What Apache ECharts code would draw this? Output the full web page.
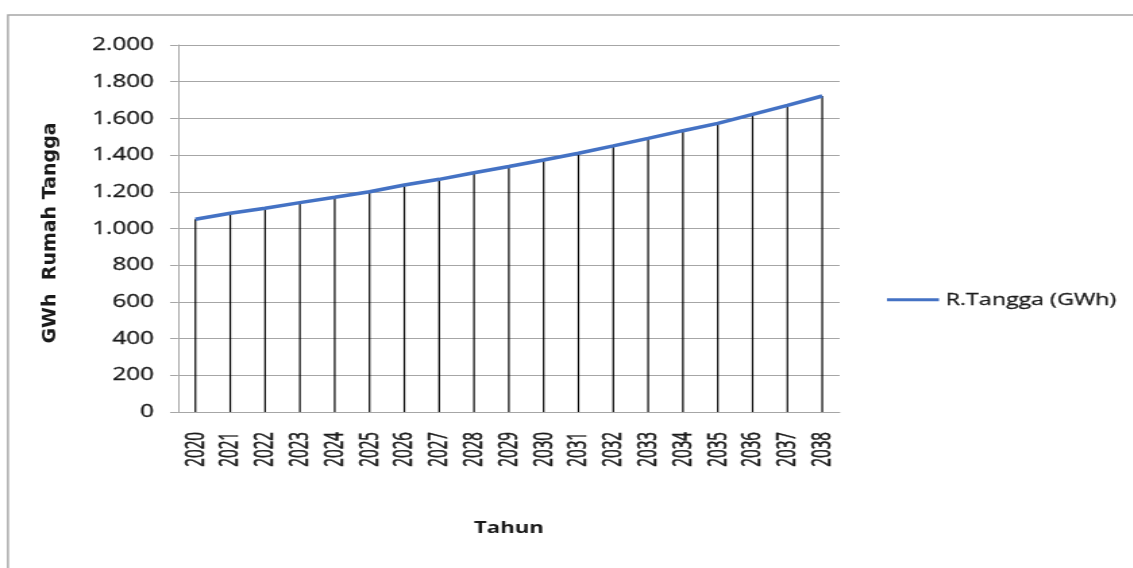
<!DOCTYPE html>
<html>
<head>
<meta charset="utf-8">
<script src="https://cdn.jsdelivr.net/npm/echarts@6/dist/echarts.min.js"></script>
<style>
  html, body { margin: 0; padding: 0; background: #fff; overflow: hidden; }
  #wrap { width: 1133px; height: 568px; overflow: hidden; position: relative; }
  /* the chart is laid out narrower and widened horizontally */
  #chart { width: 839.26px; height: 568px; transform: scaleX(1.35); transform-origin: 0 0; }
</style>
</head>
<body>
<div id="wrap"><div id="chart"></div></div>
<script>
const STRETCH = 1.35;

const years = ['2020','2021','2022','2023','2024','2025','2026','2027','2028','2029',
               '2030','2031','2032','2033','2034','2035','2036','2037','2038'];
const rumahTangga = [1050, 1083, 1110, 1141, 1170, 1200, 1237, 1268, 1304, 1338,
                     1373, 1410, 1450, 1491, 1533, 1573, 1622, 1671, 1722];
const seriesName = 'R.Tangga (GWh)';
const yTitle = 'GWh  Rumah Tangga';
const xTitle = 'Tahun';

const fmtThousands = v => String(v).replace(/\B(?=(\d{3})+(?!\d))/g, '.');

const chart = echarts.init(document.getElementById('chart'), null, { renderer: 'canvas' });

const gridColor = '#a6a6a6';
const textColor = '#1a1a1a';
const font = 'Open Sans';
// a thin outline in the text colour gives the labels a slightly heavier weight
const heavy = { textBorderColor: textColor, textBorderWidth: 0.3 };

const baseGraphics = [
  {
    id: 'frame', type: 'rect', silent: true, z: -10,
    shape: { x: 5.9, y: 15, width: 2000, height: 2000 },
    style: { fill: 'none', stroke: gridColor, lineWidth: 1.4 }
  },
  {
    id: 'yTitle', type: 'text', silent: true,
    x: 37, y: 233,
    rotation: Math.PI / 2,
    scaleY: 1 / STRETCH,
    style: {
      text: yTitle, fontFamily: 'DejaVu Sans', fontWeight: 'bold', fontSize: 19,
      fill: textColor, align: 'center', verticalAlign: 'middle'
    }
  }
];

chart.setOption({
  animation: false,
  textStyle: { fontFamily: font, color: textColor },
  graphic: baseGraphics,
  legend: {
    data: [seriesName],
    left: 652, top: 286,
    icon: 'rect', itemWidth: 38.5, itemHeight: 3, itemGap: 5.9,
    textStyle: Object.assign({ fontFamily: font, fontSize: 17.2, color: textColor }, heavy)
  },
  grid: { left: 131.85, right: 217.04, top: 45, bottom: 156, containLabel: false },
  xAxis: {
    type: 'category',
    data: years,
    boundaryGap: true,
    axisLine: { show: true, lineStyle: { color: gridColor, width: 1 } },
    axisTick: { show: false },
    axisLabel: { show: false },
    name: xTitle,
    nameLocation: 'middle',
    nameGap: 108,
    nameTextStyle: { fontFamily: font, fontWeight: 'bold', fontSize: 16.5, color: textColor }
  },
  yAxis: {
    type: 'value',
    min: 0, max: 2000, interval: 200,
    axisLine: { show: true, lineStyle: { color: gridColor, width: 1 } },
    axisTick: { show: true, length: 5.9, lineStyle: { color: gridColor } },
    splitLine: { show: true, lineStyle: { color: gridColor, width: 1 } },
    axisLabel: Object.assign({ margin: 17.8, fontSize: 18, color: textColor, fontFamily: font, formatter: fmtThousands }, heavy)
  },
  series: [
    {
      // vertical drop lines from each point down to the axis
      name: 'drop',
      type: 'bar',
      data: rumahTangga,
      barWidth: 1.2,
      silent: true,
      z: 1,
      itemStyle: { color: '#000' }
    },
    {
      name: seriesName,
      type: 'line',
      data: rumahTangga,
      showSymbol: false,
      symbol: 'none',
      z: 3,
      lineStyle: { color: '#4472c4', width: 3.5 },
      itemStyle: { color: '#4472c4' }
    }
  ]
});

// Year labels, rotated to read upward, placed at each category position of the x axis
const axisY = chart.convertToPixel({ yAxisIndex: 0 }, 0);
const yearLabels = years.map((yr, i) => ({
  id: 'year' + i, type: 'text', silent: true,
  x: chart.convertToPixel({ xAxisIndex: 0 }, yr),
  y: axisY + 20,
  rotation: Math.PI / 2,
  scaleY: 1.35,
  style: {
    text: yr, fontFamily: font, fontSize: 15.2, fill: textColor,
    stroke: textColor, lineWidth: 0.4,
    align: 'right', verticalAlign: 'middle'
  }
}));
chart.setOption({ graphic: baseGraphics.concat(yearLabels) });
</script>
</body>
</html>
